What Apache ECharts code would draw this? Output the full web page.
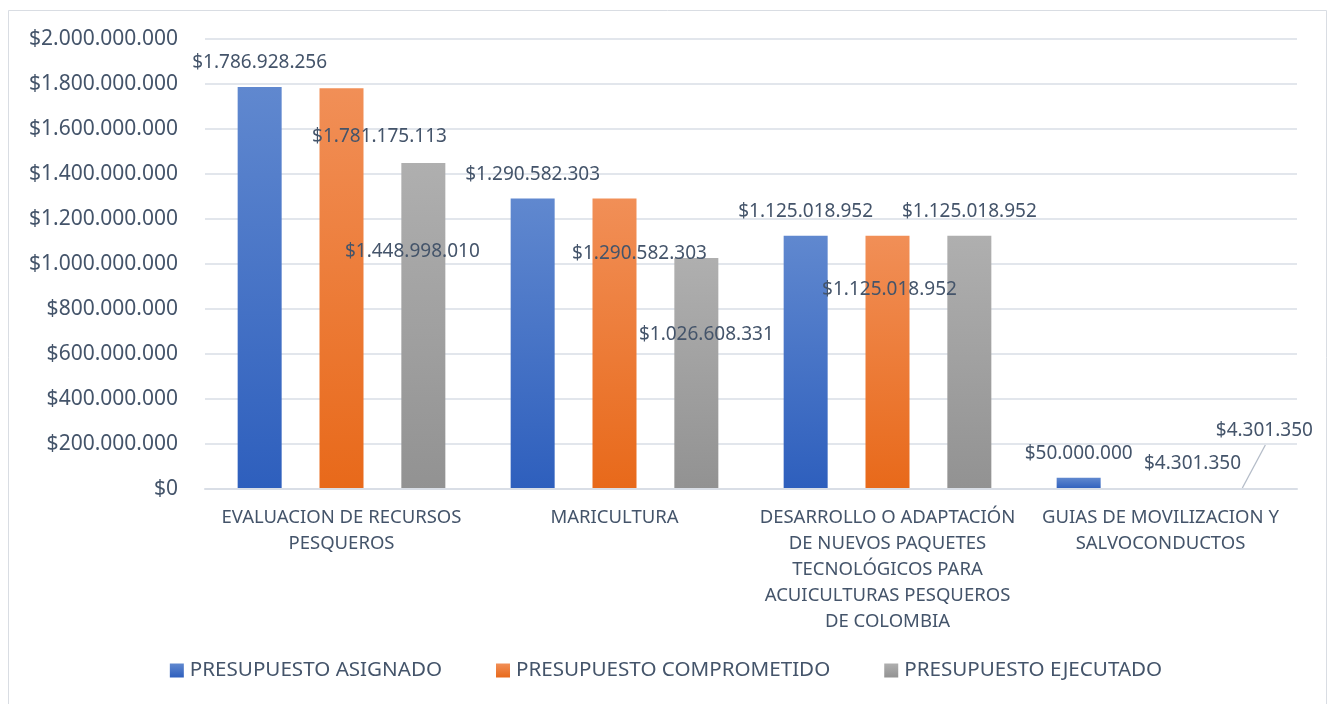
<html>
<head>
    <meta charset="utf-8" />
    <title>Presupuesto</title>
    <script src="https://cdn.jsdelivr.net/npm/echarts@6/dist/echarts.min.js"></script>
    <style>
        body { margin: 0; background: #fff; }
    </style>
</head>
<body>
    <div id="chart" style="width:1332px;height:704px;"></div>
    <script type="text/javascript">
        var categories = [
            'EVALUACION DE RECURSOS\nPESQUEROS',
            'MARICULTURA',
            'DESARROLLO O ADAPTACIÓN\nDE NUEVOS PAQUETES\nTECNOLÓGICOS PARA\nACUICULTURAS PESQUEROS\nDE COLOMBIA',
            'GUIAS DE MOVILIZACION Y\nSALVOCONDUCTOS'
        ];
        var seriesNames = ['PRESUPUESTO ASIGNADO', 'PRESUPUESTO COMPROMETIDO', 'PRESUPUESTO EJECUTADO'];
        var asignado = [1786928256, 1290582303, 1125018952, 50000000];
        var comprometido = [1781175113, 1290582303, 1125018952, 4301350];
        var ejecutado = [1448998010, 1026608331, 1125018952, 4301350];

        var textColor = '#44546a';
        var font = 'Noto Sans';

        // where Excel moved the data labels, relative to the 'top' spot
        var labelShift = [
            [[0, 0], [0, 0], [0, 0], [0, 0]],
            [[38, 73], [25, 79], [2, 78], [32, 0]],
            [[-11, 113], [10, 101], [0, 0], [22, -33]]
        ];

        function money(v) {
            return '$' + String(v).replace(/\B(?=(\d{3})+(?!\d))/g, '.');
        }

        function grad(top, bottom) {
            return new echarts.graphic.LinearGradient(0, 0, 0, 1, [
                { offset: 0, color: top },
                { offset: 1, color: bottom }
            ]);
        }

        var colors = [
            grad('#6088cf', '#2e5fbd'),
            grad('#f18f57', '#e8691a'),
            grad('#afafaf', '#929292')
        ];

        function makeSeries(idx, values) {
            return {
                name: seriesNames[idx],
                type: 'bar',
                barWidth: 44,
                barGap: '86%',
                itemStyle: { color: colors[idx] },
                label: {
                    show: true,
                    position: 'top',
                    distance: 15,
                    fontFamily: font,
                    fontSize: 19,
                    color: textColor,
                    formatter: function (p) { return money(p.value); }
                },
                labelLayout: function (p) {
                    var s = labelShift[idx][p.dataIndex];
                    return { dx: s[0], dy: s[1] };
                },
                data: values
            };
        }

        var border = {
            type: 'rect',
            shape: { x: 8.5, y: 10.5, width: 1318, height: 710 },
            style: { fill: 'none', stroke: '#d9dde3', lineWidth: 1 }
        };

        var chart = echarts.init(document.getElementById('chart'));
        var option = {
            backgroundColor: '#fff',
            animation: false,
            graphic: [border],
            grid: { left: 205, right: 35, top: 39, bottom: 215 },
            legend: {
                bottom: 18,
                left: 'center',
                icon: 'rect',
                itemWidth: 14,
                itemHeight: 14,
                itemGap: 54,
                textStyle: {
                    fontFamily: font,
                    fontSize: 20.6,
                    color: textColor,
                    padding: [0, 0, 0, 1]
                },
                data: seriesNames
            },
            xAxis: {
                type: 'category',
                data: categories,
                z: 5,
                axisTick: { show: false },
                axisLine: { lineStyle: { color: '#d9dee6', width: 2 } },
                axisLabel: {
                    interval: 0,
                    margin: 16,
                    fontFamily: font,
                    fontSize: 18.5,
                    lineHeight: 26,
                    color: textColor
                }
            },
            yAxis: {
                type: 'value',
                min: 0,
                max: 2000000000,
                interval: 200000000,
                axisLine: { show: false },
                axisTick: { show: false },
                splitLine: { lineStyle: { color: '#d9dee6', width: 1.5 } },
                axisLabel: {
                    margin: 27,
                    fontFamily: font,
                    fontSize: 21,
                    color: textColor,
                    formatter: money
                }
            },
            series: [
                makeSeries(0, asignado),
                makeSeries(1, comprometido),
                makeSeries(2, ejecutado)
            ]
        };
        chart.setOption(option);

        // leader line for the moved label of the last grey bar
        var lay = chart.getModel().getSeriesByIndex(2).getData().getItemLayout(3);
        var x0 = lay.x + lay.width / 2;
        var y0 = lay.y + lay.height;
        chart.setOption({
            graphic: [border, {
                type: 'line',
                shape: { x1: x0, y1: y0, x2: x0 + 23, y2: y0 - 43 },
                style: { stroke: '#b4bcc8', lineWidth: 1.3 }
            }]
        });
    </script>
</body>
</html>
